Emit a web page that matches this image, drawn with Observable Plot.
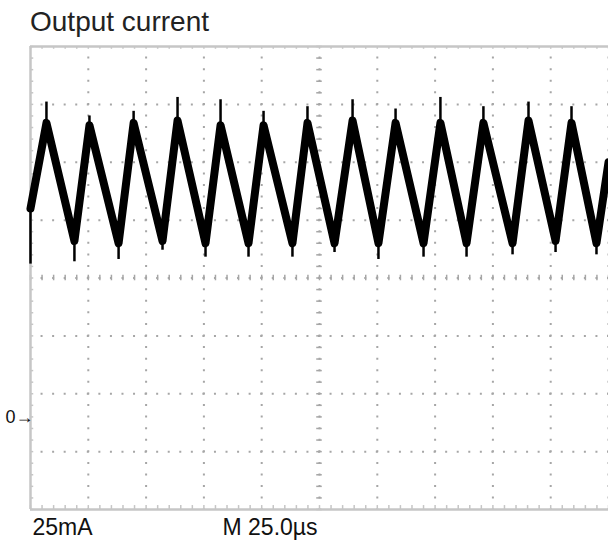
<!DOCTYPE html>
<html><head><meta charset="utf-8">
<script src="https://cdn.jsdelivr.net/npm/d3@7"></script>
<script src="https://cdn.jsdelivr.net/npm/@observablehq/plot@0.6"></script>
<style>
html,body{margin:0;padding:0;background:#fff;overflow:hidden;}
#title{box-sizing:border-box;height:40px;padding-top:6px;line-height:40px;padding-left:30px;font:28px "Liberation Sans",Arial,sans-serif;color:#222;white-space:nowrap;overflow:visible;}
</style></head><body>
<div id="title">Output current</div>
<div id="chart"></div>
<script>
// waveform vertices (time in µs, current in mA)
const timeUs  = [0, 6.9, 19.0, 25.5, 38.1, 44.6, 57.1, 63.6, 75.7, 82.2, 94.3, 100.8, 113.3, 119.8, 131.5, 139.3, 150.5, 157.9, 170.0, 177.3, 188.6, 195.9, 208.5, 215.4, 227.1, 234.0, 244.8, 250];
const bodyMA  = [90, 127, 76, 126, 75, 127, 76, 128, 75, 126, 75, 126, 75, 127, 75, 128, 75, 127, 75, 127, 75, 127, 75, 128, 76, 127, 75, 110];
const spikeMA = [66, 136, 67, 130, 68, 132, 72, 138, 69, 137, 69, 132, 69, 134, 71, 137, 68, 133, 69, 138, 69, 134, 70, 136, 71, 134, 70, 110];

// oscilloscope graticule (10 x 8 divisions)
const gridT = [0, 25, 50, 75, 100, 125, 150, 175, 200, 225, 250];
const gridI = [-40, -15, 10, 35, 60, 85, 110, 135, 160];
const centerT = 125, centerI = 60;
const zeroLevel = [{v: 0, label: "0→"}];
const scaleLabel = "25mA";
const timeLabel = "M 25.0µs";

const wave = timeUs.map((t, i) => ({t, body: bodyMA[i], spike: spikeMA[i]}));
const minorT = d3.range(0, 250.01, 5);
const minorI = d3.range(-40, 160.01, 5);

const gc = "#a6a6a6";
const bc = "#c6c6c6";
const labelFont = "'Liberation Sans',Arial,sans-serif";

const chart = Plot.plot({
  width: 608, height: 500,
  marginTop: 6, marginBottom: 31, marginLeft: 30, marginRight: 0,
  x: {domain: [0, 250], axis: null},
  y: {domain: [-40, 160], axis: null},
  style: {background: "#fff", overflow: "visible"},
  marks: [
    Plot.ruleX(gridT.slice(1), {x: d => d, stroke: gc, strokeWidth: 2, strokeDasharray: "2,9.58", strokeDashoffset: 1}),
    Plot.ruleY(gridI.slice(1, -1), {y: d => d, stroke: gc, strokeWidth: 2, strokeDasharray: "2,9.56", strokeDashoffset: 1}),
    Plot.ruleX(minorT, {x: d => d, y1: centerI - 1.2, y2: centerI + 1.2, stroke: gc, strokeWidth: 1.5}),
    Plot.ruleY(minorI, {y: d => d, x1: centerT - 1.2, x2: centerT + 1.2, stroke: gc, strokeWidth: 1.5}),
    Plot.ruleX(minorT, {x: d => d, y1: -40, y2: -38.3, stroke: bc, strokeWidth: 1.5}),
    Plot.ruleX(minorT, {x: d => d, y1: 160, y2: 158.8, stroke: bc, strokeWidth: 1.5}),
    Plot.ruleY(minorI, {y: d => d, x1: 0, x2: 1.4, stroke: bc, strokeWidth: 1.5}),
    Plot.ruleX([0], {x: d => d, stroke: bc, strokeWidth: 2.5}),
    Plot.ruleY([-40, 160], {y: d => d, stroke: bc, strokeWidth: 2.5}),
    Plot.line(wave, {x: "t", y: "body", stroke: "#000", strokeWidth: 8, strokeLinejoin: "round"}),
    Plot.ruleX(wave, {x: "t", y1: "body", y2: "spike", stroke: "#000", strokeWidth: 2.5}),
    Plot.text(zeroLevel, {y: "v", text: "label", frameAnchor: "left", dx: -25, textAnchor: "start", fontSize: 18, letterSpacing: -1, fontFamily: labelFont, fill: "#111"}),
    Plot.text([scaleLabel], {text: d => d, frameAnchor: "bottom-left", dx: 2, dy: 18, textAnchor: "start", lineAnchor: "middle", fontSize: 23, letterSpacing: -0.9, fontFamily: labelFont, fill: "#111"}),
    Plot.text([timeLabel], {text: d => d, frameAnchor: "bottom-left", dx: 192, dy: 18, textAnchor: "start", lineAnchor: "middle", fontSize: 23, letterSpacing: -0.8, fontFamily: labelFont, fill: "#111"})
  ]
});
document.getElementById("chart").append(chart);
</script></body></html>
